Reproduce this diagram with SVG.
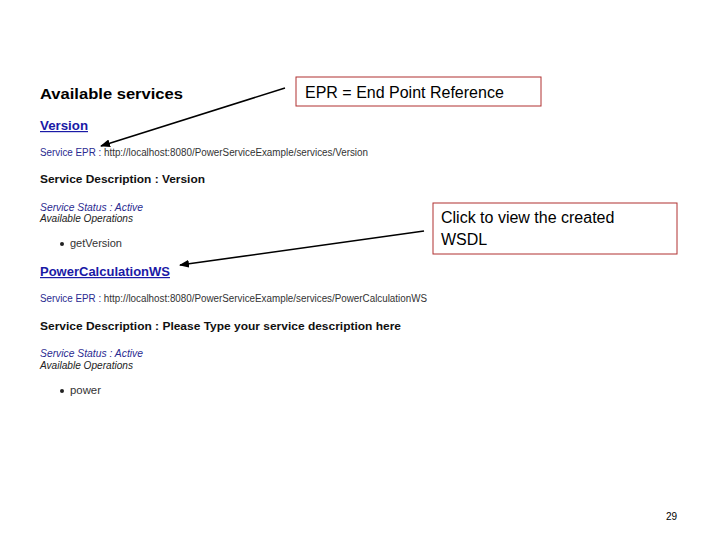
<svg xmlns="http://www.w3.org/2000/svg" width="720" height="540" viewBox="0 0 720 540">
<style>
text{font-family:"Liberation Sans",Arial,sans-serif}
.h{font-weight:bold;fill:#000}
.lnk{font-weight:bold;fill:#1a1aa6;font-size:12px;text-decoration:underline}
.s{font-size:10px;fill:#2a2a90}
.u{font-size:10px;fill:#333}
.i{font-size:10px;font-style:italic}
.d{font-size:11.5px;font-weight:bold;fill:#111}
.box{fill:#fff;stroke:#b03030;stroke-width:1}
.c{font-size:16px;fill:#000}
.ar{stroke:#000;stroke-width:1.5;fill:none;marker-end:url(#a)}
</style>
<defs><marker id="a" markerWidth="10" markerHeight="8" refX="9" refY="4" orient="auto" markerUnits="userSpaceOnUse"><path d="M0,0L10,4L0,8z" fill="#000"/></marker></defs>
<rect width="720" height="540" fill="#fff"/>
<g id="page">
<text x="40" y="99" class="h" font-size="15" textLength="143" lengthAdjust="spacingAndGlyphs">Available services</text>
<text x="40" y="130" class="lnk" textLength="48" lengthAdjust="spacingAndGlyphs">Version</text>
<text x="40" y="156" class="s" textLength="328" lengthAdjust="spacingAndGlyphs">Service EPR : <tspan fill="#333">http://localhost:8080/PowerServiceExample/services/Version</tspan></text>
<text x="40" y="183" class="d" textLength="165" lengthAdjust="spacingAndGlyphs">Service Description : Version</text>
<text x="40" y="211" class="i" fill="#2a2a90" textLength="103" lengthAdjust="spacingAndGlyphs">Service Status : Active</text>
<text x="40" y="222" class="i" fill="#222" textLength="93" lengthAdjust="spacingAndGlyphs">Available Operations</text>
<circle cx="62" cy="244" r="2" fill="#222"/>
<text x="70" y="247" class="u" textLength="52" lengthAdjust="spacingAndGlyphs">getVersion</text>
<text x="40" y="276" class="lnk" textLength="130" lengthAdjust="spacingAndGlyphs">PowerCalculationWS</text>
<text x="40" y="302" class="s" textLength="387" lengthAdjust="spacingAndGlyphs">Service EPR : <tspan fill="#333">http://localhost:8080/PowerServiceExample/services/PowerCalculationWS</tspan></text>
<text x="40" y="330" class="d" textLength="361" lengthAdjust="spacingAndGlyphs">Service Description : Please Type your service description here</text>
<text x="40" y="357" class="i" fill="#2a2a90" textLength="103" lengthAdjust="spacingAndGlyphs">Service Status : Active</text>
<text x="40" y="369" class="i" fill="#222" textLength="93" lengthAdjust="spacingAndGlyphs">Available Operations</text>
<circle cx="62" cy="391" r="2" fill="#222"/>
<text x="70" y="394" class="u" textLength="31" lengthAdjust="spacingAndGlyphs">power</text>
<text x="677" y="520" font-size="10" text-anchor="end">29</text>
</g>
<g id="callout-epr"><rect class="box" x="296" y="77" width="245" height="29"/><text x="305" y="98" class="c">EPR = End Point Reference</text></g>
<g id="callout-wsdl"><rect class="box" x="433" y="203" width="244" height="51"/><text x="441" y="223" class="c">Click to view the created</text><text x="441" y="245" class="c">WSDL</text></g>
<g id="connectors">
<line class="ar" x1="285" y1="88" x2="101" y2="146"/>
<line class="ar" x1="424" y1="231" x2="180" y2="265"/>
</g>
</svg>
